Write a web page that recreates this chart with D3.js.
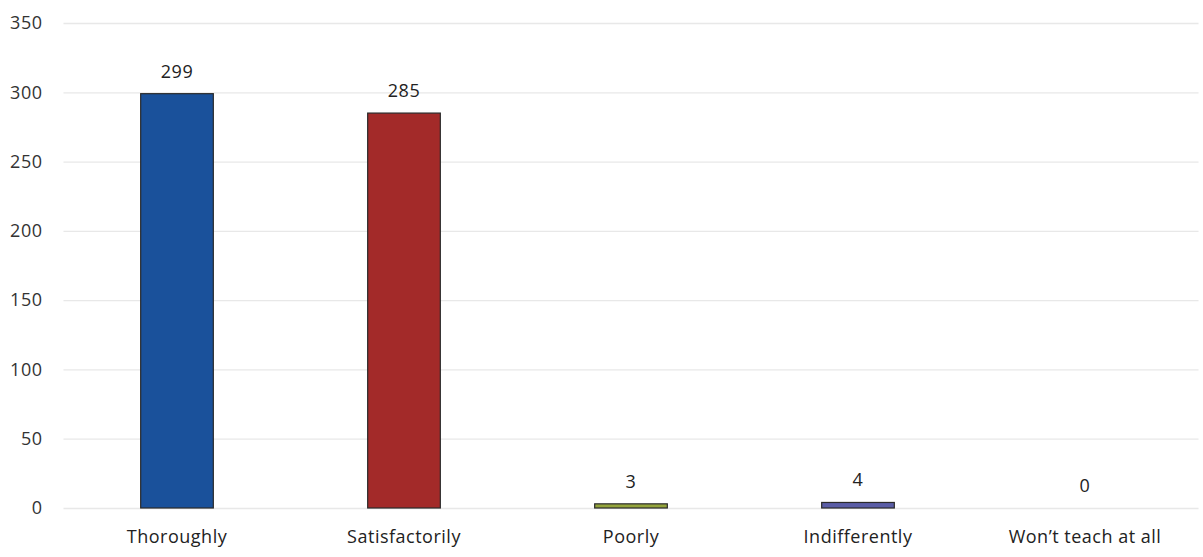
<!DOCTYPE html>
<html><head><meta charset="utf-8">
<script src="https://cdn.jsdelivr.net/npm/d3@7"></script>
<style>body{margin:0;background:#fff;}svg{display:block;font-family:"Open Sans",sans-serif;}</style>
</head><body>
<svg id="c" width="1203" height="557"></svg>
<script>
const categories = ["Thoroughly","Satisfactorily","Poorly","Indifferently","Won\u2019t teach at all"];
const values = [299,285,3,4,0];
const colors = ["#1a519b","#a32a29","#94a43c","#5a5da6","#888888"];
const yTicks = [0,50,100,150,200,250,300,350];

const svg = d3.select("#c");
const mL = 63.5, mR = 1198.5, mT = 23, mB = 508;
const FONT = "'Open Sans',sans-serif";
const x = d3.scaleBand().domain(categories).range([mL,mR]).paddingInner(0.68).paddingOuter(0.34);
const y = d3.scaleLinear().domain([0,350]).range([mB,mT]);

const yAxis = d3.axisLeft(y).tickValues(yTicks).tickSize(-(mR-mL)).tickPadding(21);
const gy = svg.append("g").attr("transform",`translate(${mL},0)`).call(yAxis);
gy.select(".domain").remove();
gy.selectAll(".tick line").attr("stroke","#e8e8e8").attr("stroke-width",1.3);
gy.selectAll(".tick text").attr("fill","#333").attr("font-size",18).attr("letter-spacing","0.5px").attr("font-family",FONT);

const xAxis = d3.axisBottom(x).tickSize(0).tickPadding(22);
const gx = svg.append("g").attr("transform",`translate(0,${mB})`).call(xAxis);
gx.select(".domain").remove();
gx.selectAll(".tick text").attr("fill","#222").attr("font-size",18).attr("letter-spacing","0.5px").attr("font-family",FONT);

svg.selectAll("rect.bar").data(values).join("rect").attr("class","bar")
  .attr("x",(d,i)=>x(categories[i])).attr("width",x.bandwidth())
  .attr("y",d=>Math.min(y(d), mB-3)).attr("height",d=>Math.max(mB-y(d),3))
  .attr("fill",(d,i)=>colors[i]).attr("stroke","#2a2a2a").attr("stroke-width",1.2)
  .attr("display",d=>d===0?"none":null);

svg.selectAll("text.val").data(values).join("text").attr("class","val")
  .attr("x",(d,i)=>x(categories[i])+x.bandwidth()/2)
  .attr("y",d=>y(d)-16)
  .attr("text-anchor","middle").attr("font-size",18).attr("letter-spacing","0.5px").attr("fill","#222").attr("font-family",FONT)
  .text(d=>d);
</script>
</body></html>
